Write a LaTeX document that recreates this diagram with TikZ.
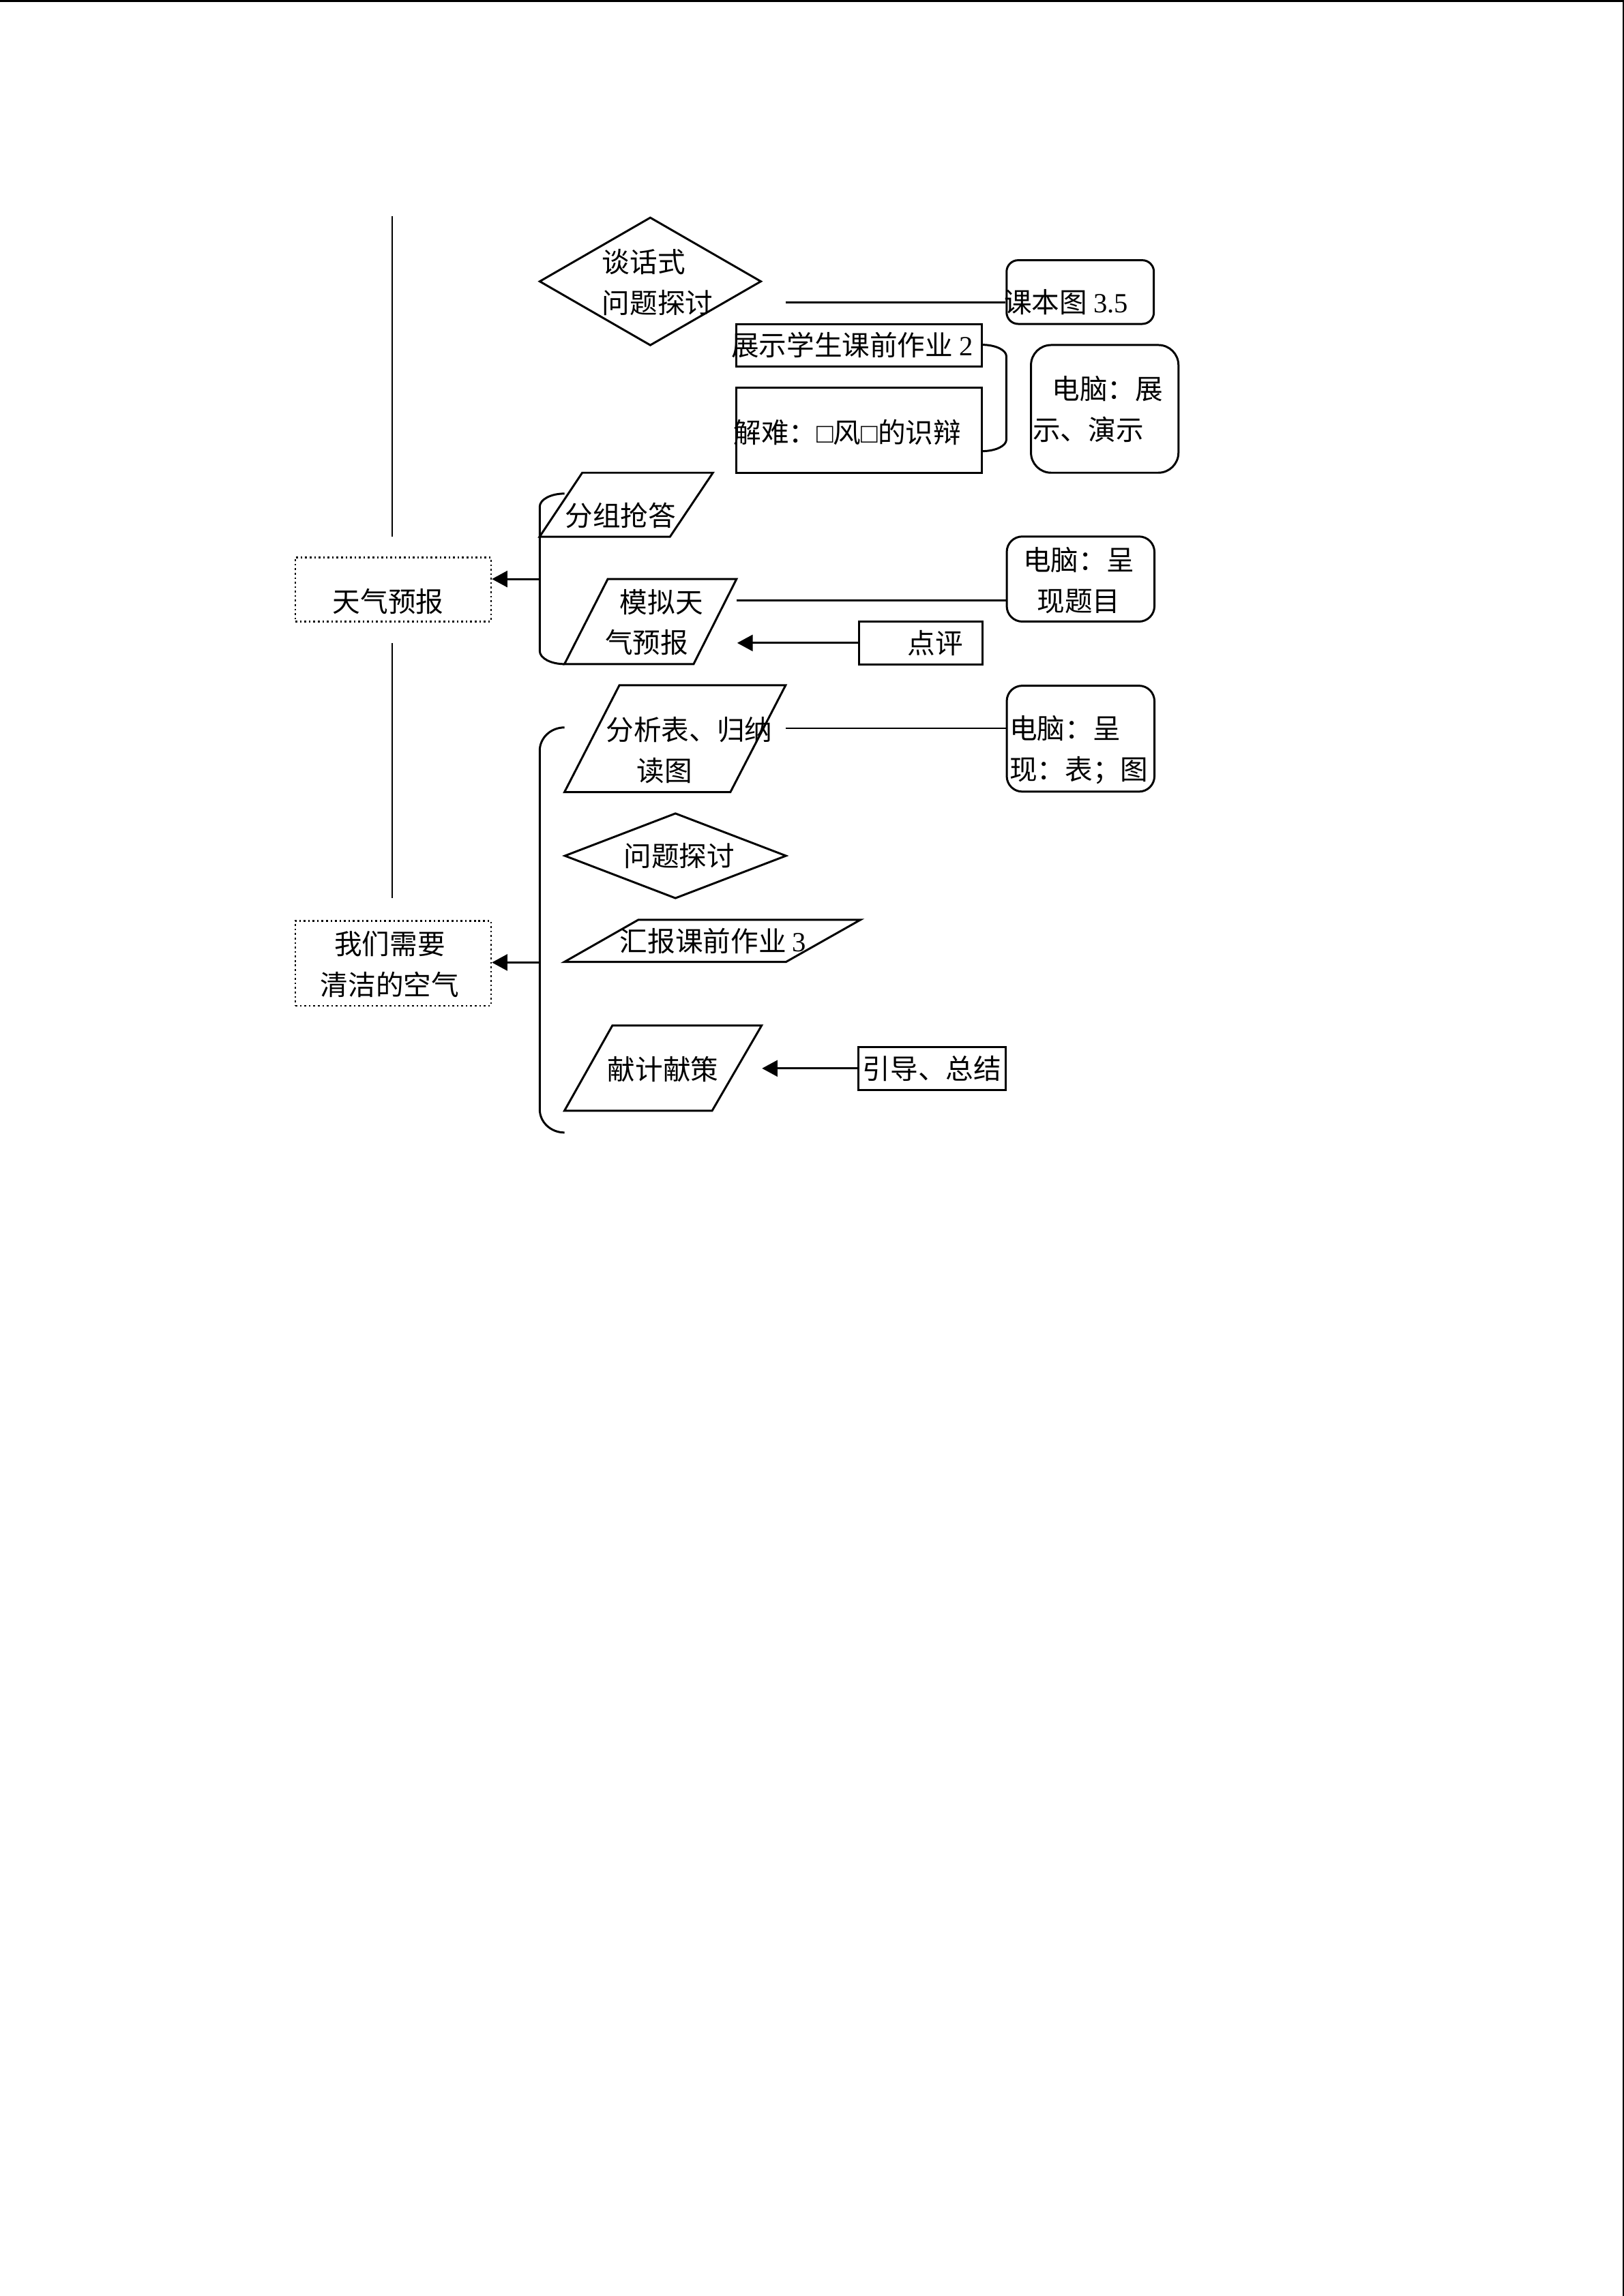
\documentclass[tikz,border=0pt]{standalone}
\usepackage{fontspec}
\setmainfont{Liberation Serif}
\newfontfamily\cjk{Noto Sans CJK SC}
\usepackage{tikz}
\usetikzlibrary{arrows.meta,shapes.geometric}
\definecolor{figline}{RGB}{0,0,0}
\newcommand\latn[1]{{\rmfamily #1}}
\tikzset{
  shp/.style ={draw=figline, line width=0.75pt},
  cn/.style  ={draw=figline, line width=0.7pt},
  vl/.style  ={draw=figline, line width=0.45pt},
  ptr/.style ={cn, -{Triangle[length=0.2cm,width=0.21cm]}},
  box/.style ={shp, rectangle, inner sep=0pt},
  rbox/.style={box, rounded corners=0.2cm},
  dbox/.style={draw=figline, line width=0.65pt, densely dotted, rectangle, inner sep=0pt},
  dia/.style ={shp, diamond, inner sep=0pt},
  lab/.style ={font=\cjk\fontsize{10.2}{15}\selectfont, inner sep=0pt, anchor=west, align=left},
  labc/.style={lab, anchor=center, align=center},
}

\begin{document}
\begin{tikzpicture}
  \useasboundingbox (0,0) rectangle (21,-29.7);
  % page edges
  \draw[figline, line width=0.75pt] (0,-0.013) -- (21,-0.013);
  \draw[figline, line width=0.5pt] (20.99,0) -- (20.99,-29.7);
  % left spine
  \draw[vl] (5.07,-2.80) -- (5.07,-6.94);
  \draw[vl] (5.07,-8.32) -- (5.07,-11.62);
  % topic boxes
  \node[dbox, minimum width=2.53cm, minimum height=0.83cm] (tq) at (5.085,-7.625) {};
  \node[labc] (tq-t) at (5.02,-7.78) {天气预报};
  \node[dbox, minimum width=2.53cm, minimum height=1.10cm] (wm) at (5.085,-12.46) {};
  \node[labc] (wm-t) at (5.04,-12.475) {我们需要\\清洁的空气};

  % first group
  \node[dia, minimum width=2.87cm, minimum height=1.66cm] (tan) at (8.41,-3.64) {};
  \node[lab] (tan-t) at (7.78,-3.65) {谈话式\\问题探讨};
  \node[rbox, rounded corners=0.15cm, minimum width=1.905cm, minimum height=0.824cm] (kb) at (13.97,-3.778) {};
  \node[lab] (kb-t) at (12.98,-3.91) {课本图 \latn{3.5}};
  \coordinate (tan-r) at (10.16,-3.91);
  \draw[cn] (tan-r) -- (tan-r -| kb.west);
  \node[box, minimum width=3.18cm, minimum height=0.55cm] (zs) at (11.11,-4.465) {};
  \node[lab] (zs-t) at (9.45,-4.46) {展示学生课前作业 \latn{2}};
  \node[box, minimum width=3.18cm, minimum height=1.10cm] (jn) at (11.11,-5.565) {};
  \node[lab] (jn-t) at (9.48,-5.59) {解难：\latn{□}风\latn{□}的识辩};
  \draw[shp] (12.70,-4.46) arc[start angle=90, end angle=0, x radius=0.315, y radius=0.15]
    -- (13.015,-5.686) arc[start angle=0, end angle=-90, x radius=0.315, y radius=0.15];
  \node[rbox, rounded corners=0.26cm, minimum width=1.907cm, minimum height=1.652cm] (dn1) at (14.287,-5.289) {};
  \node[lab] (dn1-t) at (13.35,-5.29) {\hspace*{0.25cm}电脑：展\\示、演示};

  % second group
  \draw[shp] (7.30,-6.385) arc[start angle=90, end angle=180, x radius=0.32, y radius=0.17]
    -- (6.98,-8.42) arc[start angle=180, end angle=270, x radius=0.32, y radius=0.17];
  \draw[shp] (7.53,-6.115) -- (9.22,-6.115) -- (8.664,-6.944) -- (6.977,-6.944) -- cycle;
  \node[lab] (fz-t) at (7.30,-6.67) {分组抢答};
  \coordinate (bkb) at (6.98,-7.49);
  \draw[ptr] (bkb) -- (bkb -| tq.east);
  \draw[shp] (7.86,-7.49) -- (9.525,-7.49) -- (8.97,-8.59) -- (7.30,-8.59) -- cycle;
  \node[lab] (mn-t) at (7.82,-8.05) {\hspace*{0.19cm}模拟天\\气预报};
  \node[rbox, minimum width=1.91cm, minimum height=1.10cm] (dn2) at (13.975,-7.49) {};
  \node[labc] (dn2-t) at (13.95,-7.505) {电脑：呈\\现题目};
  \coordinate (mn-r) at (9.525,-7.765);
  \draw[cn] (mn-r) -- (mn-r -| dn2.west);
  \node[box, minimum width=1.60cm, minimum height=0.554cm] (dp) at (11.907,-8.317) {};
  \node[lab] (dp-t) at (11.73,-8.32) {点评};
  \coordinate (mn-in) at (9.534,-8.317);
  \draw[ptr] (dp.west) -- (mn-in);

  % third group
  \draw[shp] (7.30,-9.41) arc[start angle=90, end angle=180, x radius=0.32, y radius=0.3]
    -- (6.98,-14.35) arc[start angle=180, end angle=270, x radius=0.32, y radius=0.3];
  \draw[shp] (8.01,-8.864) -- (10.16,-8.864) -- (9.446,-10.246) -- (7.30,-10.246) -- cycle;
  \node[lab] (fx-t) at (7.83,-9.705) {分析表、归纳\\\hspace*{0.40cm}读图};
  \node[rbox, minimum width=1.91cm, minimum height=1.37cm] (dn3) at (13.975,-9.555) {};
  \node[lab] (dn3-t) at (13.05,-9.70) {电脑：呈\\现：表；图};
  \coordinate (fx-r) at (10.16,-9.42);
  \draw[cn] (fx-r) -- (fx-r -| dn3.west);
  \node[dia, minimum width=2.87cm, minimum height=1.106cm] (wt) at (8.735,-11.07) {};
  \node[lab] (wt-t) at (8.06,-11.07) {问题探讨};
  \draw[shp] (8.255,-11.898) -- (11.128,-11.898) -- (10.166,-12.442) -- (7.30,-12.442) -- cycle;
  \node[lab] (hb-t) at (8.01,-12.17) {汇报课前作业 \latn{3}};
  \coordinate (bkc) at (6.98,-12.45);
  \draw[ptr] (bkc) -- (bkc -| wm.east);
  \draw[shp] (7.92,-13.265) -- (9.85,-13.265) -- (9.21,-14.367) -- (7.30,-14.367) -- cycle;
  \node[lab] (xj-t) at (7.85,-13.83) {献计献策};
  \node[box, minimum width=1.91cm, minimum height=0.557cm] (yd) at (12.055,-13.82) {};
  \node[lab] (yd-t) at (11.15,-13.82) {引导、总结};
  \coordinate (xj-in) at (9.855,-13.82);
  \draw[ptr] (yd.west) -- (xj-in);
\end{tikzpicture}
\end{document}
